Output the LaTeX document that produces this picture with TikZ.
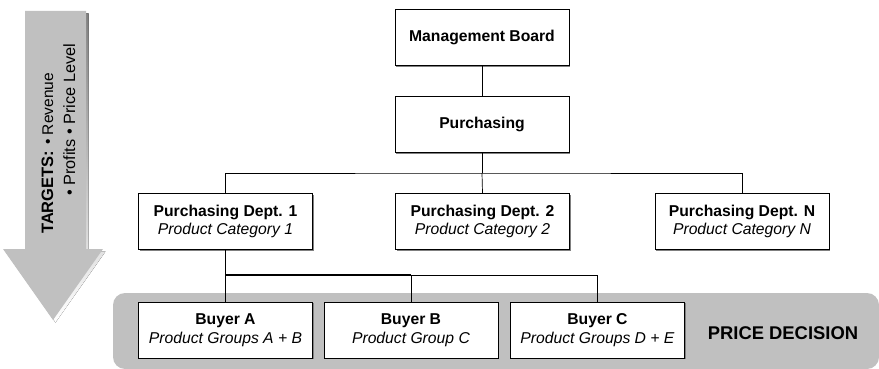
\documentclass[tikz,border=0pt]{standalone}
\usepackage{fontspec}
\setmainfont{Liberation Sans}
\usetikzlibrary{shadows}
\definecolor{panel}{HTML}{C0C0C0}
\definecolor{shade}{HTML}{808080}
\begin{document}
\begin{tikzpicture}[x=1pt,y=-1pt,
  box/.style={draw=black, fill=white, line width=0.6pt, minimum width=174pt, minimum height=56pt,
    inner sep=0pt, align=center, font=\fontsize{15.7}{18.5}\selectfont,
    drop shadow={shadow xshift=1.2pt, shadow yshift=-1.2pt, fill=shade, opacity=1}},
  vtext/.style={rotate=90, anchor=base west, inner sep=0pt},
  link/.style={line width=0.7pt, draw=black},
  strong/.style={line width=1.3pt, draw=black}]
\useasboundingbox (0,0) rectangle (879,369);
% target arrow
\fill[shade, shift={(2.5,2.5)}] (25,11) -- (86,11) -- (86,249) -- (103,249) -- (53,320) -- (3,249) -- (25,249) -- cycle;
\fill[panel] (25,11) -- (86,11) -- (86,249) -- (103,249) -- (53,320) -- (3,249) -- (25,249) -- cycle;
\node[vtext, font=\bfseries\fontsize{16.5}{20}\selectfont] (tg) at (53,234) {TARGETS:};
\node[vtext, font=\fontsize{15.5}{20}\selectfont] (rv) at (53,145) {• Revenue};
\node[vtext, font=\fontsize{16.3}{20}\selectfont] (pp) at (75,196) {• Profits • Price Level};
% price decision panel
\fill[panel, rounded corners=12pt] (113,293) rectangle (879,369);
\node[font=\bfseries\fontsize{18.4}{20}\selectfont] (pd) at (783,333) {PRICE DECISION};
% boxes
\node[box] (mb) at (482,37.5) {\bfseries Management Board};
\node[box] (pu) at (482,124.5) {\bfseries Purchasing};
\node[box] (d1) at (225.5,221.5) {\textbf{Purchasing Dept. 1}\\\textit{Product Category 1}};
\node[box] (d2) at (482.5,221.5) {\textbf{Purchasing Dept. 2}\\\textit{Product Category 2}};
\node[box] (dn) at (742,221.5) {\textbf{Purchasing Dept. N}\\\textit{Product Category N}};
\node[box] (ba) at (225.5,330) {\textbf{Buyer A}\\\textit{Product Groups A + B}};
\node[box] (bb) at (411,330) {\textbf{Buyer B}\\\textit{Product Group C}};
\node[box] (bc) at (597.5,330) {\textbf{Buyer C}\\\textit{Product Groups D + E}};
% connectors
\coordinate (j1) at (482,173);
\coordinate (j2) at (411,275);
\draw[link] (mb) -- (pu);
\draw[link] (pu.south) -- (j1);
\draw[link] (d1.north) |- (j1) -| (dn.north);
\draw[link] (j1) -- (d2.north);
\draw[strong] (d1.south) |- (j2);
\draw[link] (j2) -| (bc.north);
\draw[link] (d1.south |- j2) -- (ba.north);
\draw[link] (j2) -- (bb.north);
\end{tikzpicture}
\end{document}
